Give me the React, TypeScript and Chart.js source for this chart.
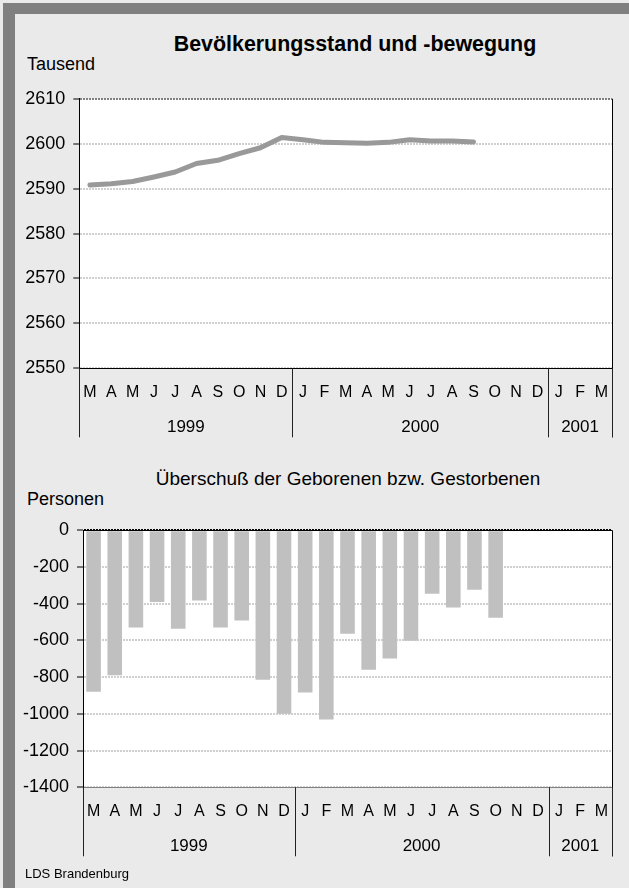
import React, { useEffect, useRef } from 'react';
import { Chart, registerables } from 'chart.js';

Chart.register(...registerables);

// ---------- data ----------
const monthLabels = ['M', 'A', 'M', 'J', 'J', 'A', 'S', 'O', 'N', 'D', 'J', 'F', 'M', 'A', 'M', 'J', 'J', 'A', 'S', 'O', 'N', 'D', 'J', 'F', 'M'];
const yearLabels = ['1999', '2000', '2001'];
const yearMonthCounts = [10, 12, 3];

// Bevölkerungsstand (Tausend), März 1999 – Sep 2000
const populationThousands = [2590.8, 2591.1, 2591.6, 2592.6, 2593.7, 2595.6, 2596.3, 2597.8, 2599.1, 2601.4, 2600.9, 2600.3, 2600.2, 2600.1, 2600.3, 2600.9, 2600.6, 2600.6, 2600.4];
// Überschuß der Geborenen bzw. Gestorbenen (Personen), März 1999 – Okt 2000
const balancePersons = [-880, -790, -530, -390, -536, -383, -530, -492, -814, -1000, -884, -1031, -563, -759, -699, -601, -345, -421, -324, -476];

const populationAxis = [2550, 2610, 10]; // min, max, step
const balanceAxis = [-1400, 0, 200];

const FONT = '"Liberation Sans", Arial, Helvetica, sans-serif';

function crisp(v: number) {
  return Math.round(v) + 0.5;
}

function makeYearPlugin(zeroAtTop: boolean) {
  return {
    id: 'yearAxis',
    beforeDraw(chart: any) {
      const { ctx, chartArea: a } = chart;
      ctx.save();
      ctx.fillStyle = '#ffffff';
      ctx.fillRect(a.left, a.top, a.right - a.left, a.bottom - a.top);
      ctx.restore();
    },
    afterDraw(chart: any) {
      const { ctx, chartArea: a } = chart;
      const xs = chart.scales.x;
      const n = monthLabels.length;
      const w = (xs.right - xs.left) / n;
      const drop = 69;
      const line = (x1: number, y1: number, x2: number, y2: number, color: string) => {
        ctx.beginPath();
        ctx.strokeStyle = color;
        ctx.moveTo(x1, y1);
        ctx.lineTo(x2, y2);
        ctx.stroke();
      };
      ctx.save();
      ctx.lineWidth = 1;
      if (zeroAtTop) {
        line(a.left, crisp(a.top), a.right, crisp(a.top), '#000');
      }
      // right border of plot
      line(crisp(a.right), a.top, crisp(a.right), a.bottom + drop, '#000');
      const bounds = [0];
      let acc = 0;
      yearMonthCounts.forEach((c) => {
        acc += c;
        bounds.push(acc);
      });
      bounds.forEach((b) => {
        const px = crisp(xs.left + b * w);
        line(px, a.bottom, px, a.bottom + drop, '#222');
      });
      ctx.fillStyle = '#000';
      ctx.font = `17px ${FONT}`;
      ctx.textAlign = 'center';
      ctx.textBaseline = 'middle';
      yearLabels.forEach((lab, i) => {
        const mid = xs.left + ((bounds[i] + bounds[i + 1]) / 2) * w;
        ctx.fillText(lab, mid, a.bottom + 59);
      });
      ctx.restore();
    },
  };
}

function xAxis(height: number, borderColor: string) {
  return {
    type: 'category' as const,
    offset: true,
    grid: { display: true, drawOnChartArea: false, drawTicks: false, color: 'rgba(0,0,0,0)' },
    border: { display: true, color: borderColor, width: 1 },
    ticks: { font: { size: 16, family: FONT }, color: '#000', padding: 15, maxRotation: 0, autoSkip: false },
    afterFit: (s: any) => {
      s.height = height;
    },
  };
}

function yAxis(range: number[], width: number, topColor: string) {
  return {
    min: range[0],
    max: range[1],
    ticks: {
      stepSize: range[2],
      font: { size: 18, family: FONT },
      color: '#000',
      padding: 8,
      callback: (v: any) => String(v),
    },
    grid: {
      color: (c: any) => (c.tick && c.tick.value === range[1] ? topColor : '#d0d0d0'),
      lineWidth: 2,
      tickColor: '#000',
      tickLength: 6,
      tickWidth: 1,
      tickBorderDash: [],
    },
    border: { display: true, color: '#000', width: 1, dash: [2, 1] },
    afterFit: (s: any) => {
      s.width = width;
    },
  };
}

function PopulationChart() {
  const ref = useRef<HTMLCanvasElement>(null);
  useEffect(() => {
    if (!ref.current) return;
    const chart = new Chart(ref.current, {
      type: 'line',
      data: {
        labels: monthLabels,
        datasets: [
          {
            data: populationThousands,
            borderColor: '#999999',
            borderWidth: 5,
            borderCapStyle: 'round',
            borderJoinStyle: 'round',
            pointRadius: 0,
            tension: 0,
            fill: false,
          },
        ],
      },
      options: {
        animation: false,
        responsive: false,
        maintainAspectRatio: false,
        layout: { padding: { top: 16.7, right: 17, left: 0, bottom: 0 } },
        plugins: { legend: { display: false }, tooltip: { enabled: false }, title: { display: false } },
        scales: {
          x: xAxis(81.7, '#000'),
          y: yAxis(populationAxis, 79.3, '#808080'),
        },
      },
      plugins: [makeYearPlugin(false)],
    } as any);
    return () => chart.destroy();
  }, []);
  return <canvas ref={ref} width={629} height={370} style={{ position: 'absolute', left: 0, top: 80, width: 629, height: 370 }} />;
}

function BalanceChart() {
  const ref = useRef<HTMLCanvasElement>(null);
  useEffect(() => {
    if (!ref.current) return;
    const chart = new Chart(ref.current, {
      type: 'bar',
      data: {
        labels: monthLabels,
        datasets: [
          {
            data: balancePersons,
            backgroundColor: '#c0c0c0',
            borderWidth: 0,
            barPercentage: 0.69,
            categoryPercentage: 1,
          },
        ],
      },
      options: {
        animation: false,
        responsive: false,
        maintainAspectRatio: false,
        layout: { padding: { top: 30.3, right: 17, left: 0, bottom: 0 } },
        plugins: { legend: { display: false }, tooltip: { enabled: false }, title: { display: false } },
        scales: {
          x: xAxis(82.7, '#808080'),
          y: yAxis(balanceAxis, 83, '#000'),
        },
      },
      plugins: [makeYearPlugin(true)],
    } as any);
    return () => chart.destroy();
  }, []);
  return <canvas ref={ref} width={629} height={370} style={{ position: 'absolute', left: 0, top: 500, width: 629, height: 370 }} />;
}

const textBase: React.CSSProperties = {
  position: 'absolute',
  fontFamily: FONT,
  color: '#000',
  whiteSpace: 'nowrap',
  margin: 0,
};

export default function App() {
  return (
    <div style={{ position: 'absolute', left: 0, top: 0, width: 629, height: 888, background: '#eaeaea', overflow: 'hidden' }}>
      <div style={{ position: 'absolute', left: 3, top: 3, width: 626, height: 11, background: '#808080' }} />
      <div style={{ position: 'absolute', left: 3, top: 3, width: 12, height: 885, background: '#808080' }} />
      <div style={{ ...textBase, left: 155, width: 400, top: 34, fontSize: 21.4, lineHeight: '21px', fontWeight: 'bold', textAlign: 'center' }}>
        Bevölkerungsstand und -bewegung
      </div>
      <div style={{ ...textBase, left: 27, top: 55, fontSize: 18, lineHeight: '18px' }}>Tausend</div>
      <PopulationChart />
      <div style={{ ...textBase, left: 148, width: 400, top: 469, fontSize: 19, lineHeight: '19px', textAlign: 'center' }}>
        Überschuß der Geborenen bzw. Gestorbenen
      </div>
      <div style={{ ...textBase, left: 27, top: 490, fontSize: 18, lineHeight: '18px' }}>Personen</div>
      <BalanceChart />
      <div style={{ ...textBase, left: 25, top: 867, fontSize: 13, lineHeight: '13px' }}>LDS Brandenburg</div>
    </div>
  );
}
